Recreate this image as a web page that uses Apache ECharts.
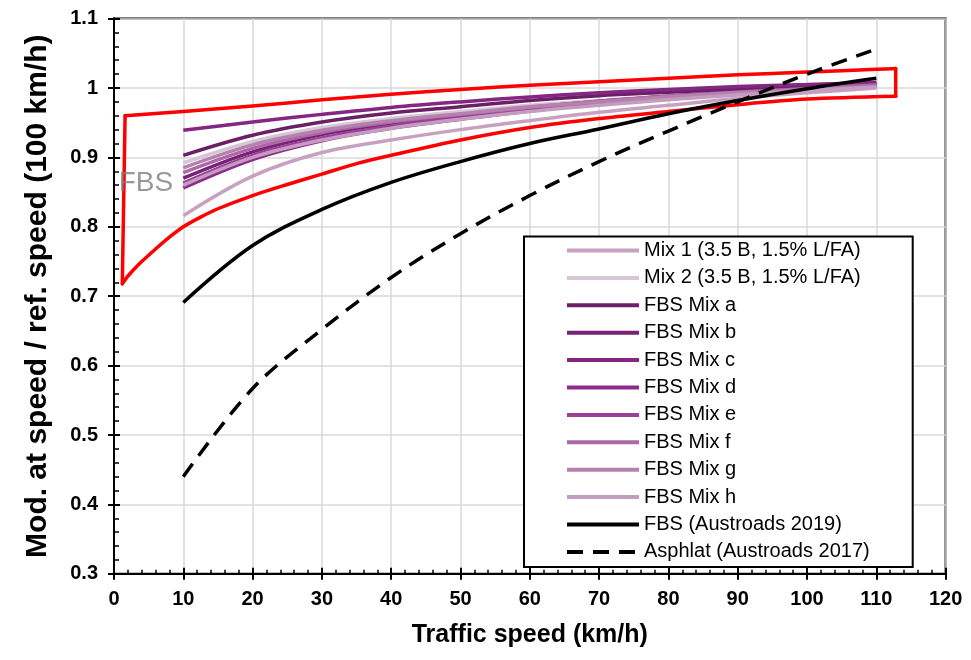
<!DOCTYPE html>
<html>
<head>
<meta charset="utf-8">
<script src="https://cdn.jsdelivr.net/npm/echarts@6/dist/echarts.min.js"></script>
<style>
html,body{margin:0;padding:0;background:#fff;}
#chart{width:971px;height:660px;}
</style>
</head>
<body>
<div id="chart"></div>
<script>
// ---- data ----
var speeds = [10, 20, 30, 40, 50, 60, 70, 80, 90, 100, 110];
var seriesNames = ['Mix 1 (3.5 B, 1.5% L/FA)', 'Mix 2 (3.5 B, 1.5% L/FA)', 'FBS Mix a', 'FBS Mix b', 'FBS Mix c', 'FBS Mix d', 'FBS Mix e', 'FBS Mix f', 'FBS Mix g', 'FBS Mix h', 'FBS (Austroads 2019)', 'Asphlat (Austroads 2017)'];
var mix1   = [0.816, 0.873, 0.907, 0.925, 0.940, 0.953, 0.965, 0.975, 0.985, 0.993, 1.000];
var mix2   = [0.892, 0.923, 0.943, 0.956, 0.966, 0.975, 0.982, 0.989, 0.994, 0.999, 1.003];
var fbsA   = [0.903, 0.932, 0.951, 0.964, 0.973, 0.982, 0.989, 0.994, 0.999, 1.004, 1.008];
var fbsB   = [0.870, 0.908, 0.933, 0.949, 0.961, 0.972, 0.981, 0.988, 0.995, 1.000, 1.006];
var fbsC   = [0.939, 0.951, 0.962, 0.972, 0.980, 0.987, 0.993, 0.998, 1.002, 1.005, 1.008];
var fbsD   = [0.856, 0.897, 0.924, 0.942, 0.955, 0.967, 0.977, 0.985, 0.992, 0.998, 1.004];
var fbsE   = [0.863, 0.903, 0.928, 0.945, 0.958, 0.969, 0.979, 0.987, 0.994, 0.999, 1.005];
var fbsF   = [0.878, 0.913, 0.936, 0.951, 0.962, 0.972, 0.981, 0.988, 0.994, 0.999, 1.004];
var fbsG   = [0.885, 0.918, 0.939, 0.953, 0.963, 0.973, 0.980, 0.987, 0.993, 0.997, 1.002];
var fbsH   = [0.860, 0.900, 0.925, 0.942, 0.955, 0.966, 0.975, 0.983, 0.990, 0.996, 1.001];
var austroads2019 = [0.691, 0.773, 0.825, 0.864, 0.894, 0.920, 0.941, 0.963, 0.982, 0.999, 1.014];
var asphlat2017   = [0.440, 0.567, 0.652, 0.727, 0.790, 0.845, 0.894, 0.938, 0.980, 1.020, 1.056];
// red envelope annotation (x speed, y ratio)
var envelopeLowerX = [1.2, 2, 3, 4, 5, 6, 8, 10, 12.5, 15, 20, 25, 30, 35, 40, 50, 60, 70, 80, 90, 100, 112.8];
var envelopeLowerY = [0.718, 0.729, 0.740, 0.750, 0.759, 0.768, 0.785, 0.800, 0.814, 0.826, 0.845, 0.861, 0.876, 0.891, 0.903, 0.925, 0.943, 0.956, 0.966, 0.976, 0.984, 0.988];
var envelopeUpperX = [112.8, 110, 100, 90, 80, 70, 60, 50, 40, 30, 20, 10, 1.6];
var envelopeUpperY = [1.028, 1.027, 1.023, 1.019, 1.014, 1.009, 1.004, 0.998, 0.991, 0.983, 0.974, 0.966, 0.960];
var xTicks = {min: 0, max: 120, step: 10};
var yTicks = {min: 0.3, max: 1.1, step: 0.1};

var colors = ['#c8a0c0', '#d6c6d6', '#6b1f67', '#782177', '#852683', '#8f2b8d', '#9c3f98', '#ad69a6', '#b680af', '#c49cbf', '#000000', '#000000'];
var values = [mix1, mix2, fbsA, fbsB, fbsC, fbsD, fbsE, fbsF, fbsG, fbsH, austroads2019, asphlat2017];

function pairs(xs, ys) { return xs.map(function (x, i) { return [x, ys[i]]; }); }

var lower = pairs(envelopeLowerX, envelopeLowerY);
var upper = pairs(envelopeUpperX, envelopeUpperY);
var rightEdge = [lower[lower.length - 1], upper[0]];
var leftEdge = [upper[upper.length - 1], lower[0]];

var FONT = 'Liberation Sans, Arial, sans-serif';

function redLine(name, data, smooth) {
  return {name: name, type: 'line', data: data, smooth: smooth, symbol: 'none', showSymbol: false,
    lineStyle: {color: '#ff0000', width: 3.5, cap: 'round', join: 'round'}, silent: true, z: 2};
}
var series = [
  redLine('envLower', lower, 0.3),
  redLine('envUpper', upper, 0.2),
  redLine('envRight', rightEdge, false),
  redLine('envLeft', leftEdge, false)
];
values.forEach(function (vals, i) {
  series.push({
    name: seriesNames[i], type: 'line', data: pairs(speeds, vals), smooth: 0.35,
    symbol: 'none', showSymbol: false, z: 3 + i,
    color: colors[i],
    lineStyle: {color: colors[i], width: 3.5, type: i === 11 ? [16, 10] : 'solid'}
  });
});
series.push({
  name: 'label', type: 'scatter', symbolSize: 0, data: [[4.6, 0.862]], silent: true,
  label: {show: true, position: 'inside', formatter: 'FBS', color: '#7f7f7f', fontSize: 28, fontFamily: FONT}
});

var option = {
  animation: false,
  backgroundColor: '#fff',
  grid: {left: 114, top: 18.6, right: 25.4, bottom: 86.2, show: true, borderColor: '#000', borderWidth: 2, backgroundColor: 'transparent'},
  legend: {
    data: seriesNames, orient: 'vertical', left: 524, top: 236.5,
    padding: [3, 43, 4, 41], itemWidth: 72, itemHeight: 14, itemGap: 5.4,
    backgroundColor: '#fff', borderColor: '#000', borderWidth: 2,
    itemStyle: {opacity: 0},
    lineStyle: {width: 4},
    textStyle: {fontSize: 20, color: '#000', fontFamily: FONT, lineHeight: 22}
  },
  xAxis: [{
    type: 'value', min: xTicks.min, max: xTicks.max, interval: xTicks.step, position: 'bottom',
    name: 'Traffic speed (km/h)', nameLocation: 'middle', nameGap: 49,
    nameTextStyle: {fontSize: 25, fontWeight: 'bold', color: '#000', fontFamily: FONT},
    axisLine: {lineStyle: {color: '#000', width: 2}},
    axisTick: {show: true, inside: false, length: 6, lineStyle: {color: '#000', width: 2}},
    axisLabel: {fontSize: 20, fontWeight: 'bold', color: '#000', margin: 16, fontFamily: FONT},
    splitLine: {show: true, lineStyle: {color: '#d9d9d9', width: 1.5}}
  }, {
    type: 'value', min: xTicks.min, max: xTicks.max, interval: xTicks.step, position: 'bottom', offset: 0,
    axisLine: {show: true, lineStyle: {color: '#000', width: 2}},
    axisTick: {show: true, inside: true, length: 6, lineStyle: {color: '#000', width: 2}},
    minorTick: {show: true, splitNumber: 5, length: 4, lineStyle: {color: '#000', width: 1.5}},
    axisLabel: {show: false}, splitLine: {show: false}
  }],
  yAxis: [{
    type: 'value', min: yTicks.min, max: yTicks.max, interval: yTicks.step, position: 'left',
    name: 'Mod. at speed / ref. speed (100 km/h)', nameLocation: 'middle', nameGap: 61, nameRotate: 90,
    nameTextStyle: {fontSize: 30, fontWeight: 'bold', color: '#000', fontFamily: FONT},
    axisLine: {show: true, lineStyle: {color: '#000', width: 2}},
    axisTick: {show: true, inside: false, length: 6, lineStyle: {color: '#000', width: 2}},
    axisLabel: {fontSize: 20, fontWeight: 'bold', color: '#000', margin: 16, fontFamily: FONT,
      formatter: function (v) { return String(Math.round(v * 10) / 10); }},
    splitLine: {show: true, lineStyle: {color: '#d9d9d9', width: 1.5}}
  }, {
    type: 'value', min: yTicks.min, max: yTicks.max, interval: yTicks.step, position: 'left', offset: 0,
    axisLine: {show: true, lineStyle: {color: '#000', width: 2}},
    axisTick: {show: true, inside: true, length: 6, lineStyle: {color: '#000', width: 2}},
    minorTick: {show: true, splitNumber: 5, length: 5, lineStyle: {color: '#000', width: 1.5}},
    axisLabel: {show: false}, splitLine: {show: false}
  }],
  series: series
};

var chart = echarts.init(document.getElementById('chart'), null, {renderer: 'canvas'});
chart.setOption(option);
</script>
</body>
</html>
